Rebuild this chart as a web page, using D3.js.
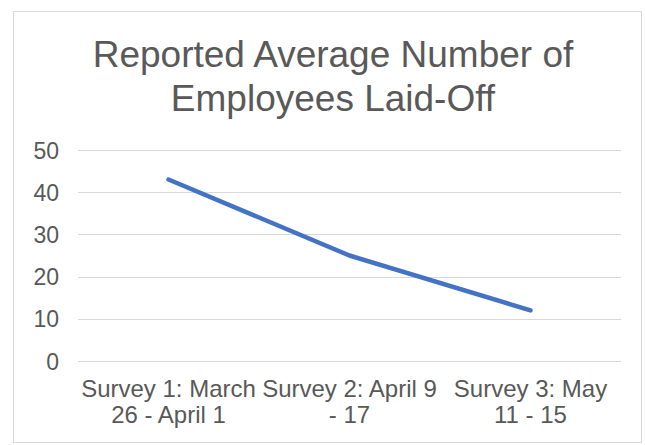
<!DOCTYPE html>
<html>
<head>
<meta charset="utf-8">
<script src="https://cdn.jsdelivr.net/npm/d3@7"></script>
<style>
  html, body { margin: 0; padding: 0; background: #fff; }
  svg text { font-family: "Liberation Sans", Arial, sans-serif; fill: #595959; }
</style>
</head>
<body>
<svg id="chart" width="645" height="445"></svg>
<script>
const titleLines = ["Reported Average Number of", "Employees Laid-Off"];
const categories = ["Survey 1: March 26 - April 1", "Survey 2: April 9 - 17", "Survey 3: May 11 - 15"];
const categoryLines = [["Survey 1: March", "26 - April 1"], ["Survey 2: April 9", "- 17"], ["Survey 3: May", "11 - 15"]];
const values = [43, 25, 12];
const yTicks = [0, 10, 20, 30, 40, 50];

const svg = d3.select("#chart");
const plot = { left: 78, right: 621, top: 150, bottom: 361 };

svg.append("rect")
  .attr("x", 13.5).attr("y", 11.5).attr("width", 628).attr("height", 431)
  .attr("fill", "#fff").attr("stroke", "#d9d9d9").attr("stroke-width", 1);

const x = d3.scaleBand().domain(categories).range([plot.left, plot.right]);
const y = d3.scaleLinear().domain([0, 50]).range([plot.bottom, plot.top]);

// gridlines
svg.append("g").selectAll("line").data(yTicks).join("line")
  .attr("x1", plot.left).attr("x2", plot.right)
  .attr("y1", d => Math.round(y(d)) + 0.5).attr("y2", d => Math.round(y(d)) + 0.5)
  .attr("stroke", "#d9d9d9").attr("stroke-width", 1);

// y axis labels
const yAxis = d3.axisLeft(y).tickValues(yTicks).tickSize(0).tickPadding(0);
const yg = svg.append("g").attr("transform", `translate(${plot.left - 19},0)`).call(yAxis);
yg.select(".domain").remove();
yg.selectAll("text").style("font-size", "23px").attr("fill", "#595959").attr("dy", "0.35em")
  .style("font-family", '"Liberation Sans", Arial, sans-serif');

// x axis labels (two lines each)
const xg = svg.append("g");
categories.forEach((c, i) => {
  const cx = x(c) + x.bandwidth() / 2;
  const t = xg.append("text")
    .attr("x", cx)
    .attr("text-anchor", "middle")
    .style("font-size", "24px");
  categoryLines[i].forEach((ln, j) => {
    t.append("tspan").attr("x", cx).attr("y", 397 + j * 26).text(ln);
  });
});

// line
const line = d3.line()
  .x((d, i) => x(categories[i]) + x.bandwidth() / 2)
  .y(d => y(d));
svg.append("path").datum(values)
  .attr("d", line)
  .attr("fill", "none")
  .attr("stroke", "#4472C4")
  .attr("stroke-width", 4.5)
  .attr("stroke-linecap", "round")
  .attr("stroke-linejoin", "round");

// title
const tt = svg.append("text").attr("text-anchor", "middle").style("font-size", "37px");
titleLines.forEach((ln, j) => {
  tt.append("tspan").attr("x", 333).attr("y", 67 + j * 44).text(ln);
});
</script>
</body>
</html>
